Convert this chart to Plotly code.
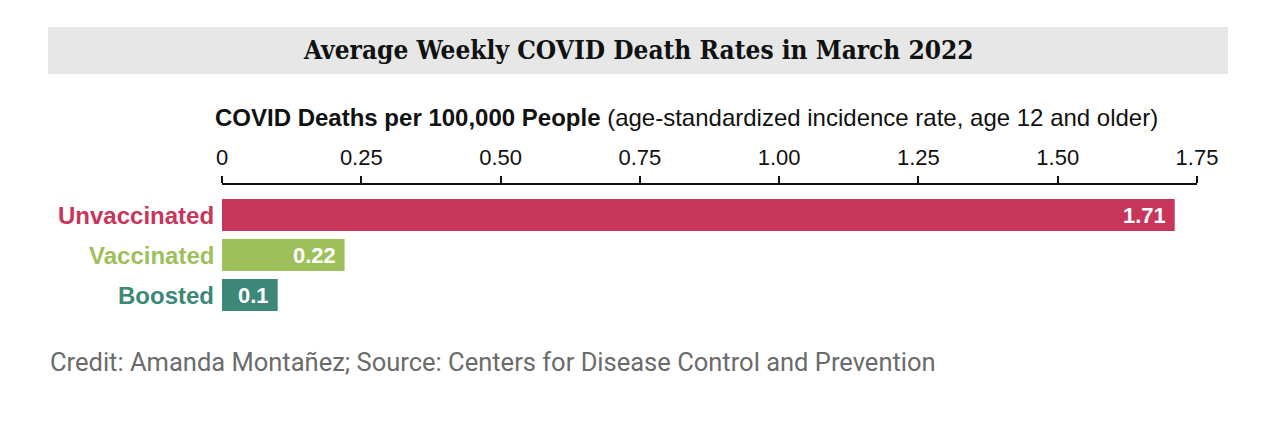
import plotly.graph_objects as go

categories = ["Unvaccinated", "Vaccinated", "Boosted"]
values = [1.71, 0.22, 0.1]
value_labels = ["1.71", "0.22", "0.1"]
colors = ["#c8355b", "#9dc05b", "#3c8778"]
tick_vals = [0, 0.25, 0.5, 0.75, 1.0, 1.25, 1.5, 1.75]
tick_text = ["0", "0.25", "0.50", "0.75", "1.00", "1.25", "1.50", "1.75"]

title = "Average Weekly COVID Death Rates in March 2022"
axis_title = "<b>COVID Deaths per 100,000 People</b> (age-standardized incidence rate, age 12 and older)"
credit = "Credit: Amanda Montañez; Source: Centers for Disease Control and Prevention"

# plot area in pixels
PL, PR, PT, PB = 222, 1197, 185, 315


def px(x):
    return (x - PL) / (PR - PL)


def py(y):
    return (PB - y) / (PB - PT)


fig = go.Figure()
fig.add_trace(go.Bar(
    y=categories, x=values, orientation="h",
    marker=dict(color=colors, line=dict(width=0)),
    hoverinfo="skip",
))

annotations = []
for c, v, t, col in zip(categories, values, value_labels, colors):
    annotations.append(dict(x=0, y=c, xref="x", yref="y", text="<b>%s</b>" % c,
                            showarrow=False, xanchor="right", xshift=-6,
                            font=dict(family="Liberation Sans", size=24, color=col)))
    annotations.append(dict(x=v, y=c, xref="x", yref="y", text="<b>%s</b>" % t,
                            showarrow=False, xanchor="right", xshift=-7,
                            font=dict(family="Liberation Sans", size=22, color="white")))

annotations.append(dict(x=px(638), y=py(50), xref="paper", yref="paper",
                        text="<b>%s</b>" % title, showarrow=False,
                        xanchor="center", yanchor="middle",
                        font=dict(family="DejaVu Serif Condensed", size=26, color="#111")))
annotations.append(dict(x=px(213), y=py(117), xref="paper", yref="paper",
                        text=axis_title, showarrow=False, xanchor="left", yanchor="middle",
                        font=dict(family="Liberation Sans", size=24, color="#111")))
annotations.append(dict(x=px(48), y=py(362), xref="paper", yref="paper",
                        text=credit, showarrow=False, xanchor="left", yanchor="middle",
                        font=dict(family="Roboto", size=25.5, color="#6b6b6b")))

fig.update_layout(
    width=1278, height=422,
    margin=dict(l=PL, r=1278 - PR, t=PT, b=422 - PB, pad=0),
    paper_bgcolor="white", plot_bgcolor="white",
    bargap=0.2, showlegend=False,
    annotations=annotations,
    shapes=[dict(type="rect", xref="paper", yref="paper",
                 x0=px(48), x1=px(1228), y0=py(74), y1=py(27),
                 fillcolor="#e6e7e6", line=dict(width=0), layer="below")],
    xaxis=dict(side="top", range=[0, 1.75], tickvals=tick_vals, ticktext=tick_text,
               showgrid=False, zeroline=False, showline=True, linecolor="#111", linewidth=1.6,
               ticks="outside", ticklen=7, tickwidth=1.6, tickcolor="#111",
               ticklabelstandoff=2,
               tickfont=dict(family="Liberation Sans", size=22, color="#111"),
               fixedrange=True),
    yaxis=dict(type="category", categoryorder="array", categoryarray=categories,
               range=[2.5, -0.75], showticklabels=False, showgrid=False,
               zeroline=False, showline=False, ticks="", fixedrange=True),
)

fig.write_html("out.html")
